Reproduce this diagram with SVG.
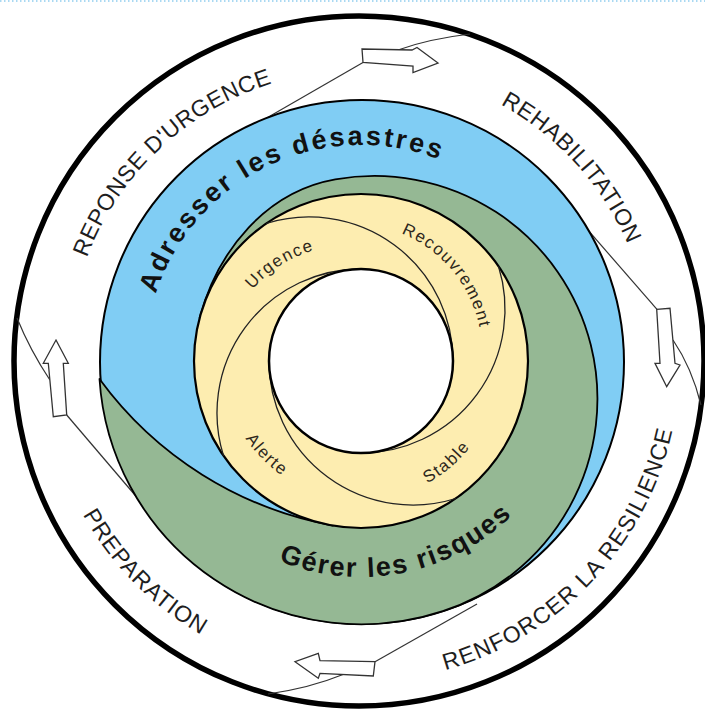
<svg xmlns="http://www.w3.org/2000/svg" width="705" height="713" viewBox="0 0 705 713">
<style>
.lbl{font-family:"Liberation Sans",Arial,Helvetica,sans-serif;}
.outer{font-size:23px;fill:#1e1e1e;}
.band{font-size:27px;font-weight:bold;fill:#111;}
.ring{font-size:17px;fill:#2e281c;}
.conn{fill:none;stroke:#333;stroke-width:1.2;}
.arrow{fill:#fff;stroke:#333;stroke-width:1.3;}
.swirl{fill:none;stroke:#222;stroke-width:1.3;}
</style>
<defs>
<path id="p-rep" d="M73.1 306.5 A291 291 0 0 1 322 72.4"/>
<path id="p-reh" d="M456.3 84.6 A293 293 0 0 1 643.4 290.6"/>
<path id="p-ren" d="M390.3 680.5 A321 321 0 0 0 679.7 373.9"/>
<path id="p-pre" d="M59.9 462.8 A316 316 0 0 0 253 658.7"/>
<path id="p-adr" d="M147.3 329.8 A216 216 0 0 1 473.9 176.8"/>
<path id="p-ger" d="M246.2 544 A216 216 0 0 0 536.6 486.7"/>
<path id="p-urg" d="M234.4 317.4 A125 125 0 0 1 347.4 245.8"/>
<path id="p-rec" d="M374.1 226 A128 128 0 0 1 481.8 356.6"/>
<path id="p-ale" d="M232.1 413.1 A139 139 0 0 0 308.2 489.6"/>
<path id="p-sta" d="M399.1 494.7 A139 139 0 0 0 486.5 420.8"/>
</defs>
<rect width="705" height="713" fill="#fff"/>
<line x1="0" y1="1" x2="705" y2="1" stroke="#8fcdee" stroke-width="1.5" stroke-dasharray="1.5 2.5"/>
<g id="outer-ring"><circle cx="359" cy="361" r="345" fill="#fff" stroke="#000" stroke-width="5.5"/></g>
<g id="connectors">
<path class="conn" d="M258 123 L363 62.5"/>
<path class="conn" d="M398 50 Q428 39 470 34"/>
<path class="conn" d="M580 221 L657 309.3"/>
<path class="conn" d="M673 340 Q692 368 701 405"/>
<path class="conn" d="M477 604 L375 661.7"/>
<path class="conn" d="M343 674.5 Q310 688 268 694"/>
<path class="conn" d="M66.7 415 L146 508"/>
<path class="conn" d="M49.9 380 Q30 350 17 318"/>
<polygon class="arrow" points="362,49 412,50 417,47.5 438,63 413,72.5 413,66 363,62.5"/>
<polygon class="arrow" points="656.7,309.3 670,308.3 675,363.3 680,365 666.7,386.7 655,363.3 660,363.3"/>
<polygon class="arrow" points="375,661.7 320,660.7 318.3,653.3 295,661.7 318.3,678.3 320,673.3 373.3,676"/>
<polygon class="arrow" points="56,340 68.3,363.3 63.3,363.3 66.7,415 53.3,416.7 48.3,363.3 43.3,363.3"/>
</g>
<g id="blue-band"><circle cx="362" cy="362" r="262" fill="#80CDF4" stroke="#000" stroke-width="2"/></g>
<g id="green-band"><path d="M199.7 317.8 C217.8 250.2 266.3 191.6 335.3 179.4 A223 223 0 0 1 442.8 611.2 A262 262 0 0 1 99.5 379 A372 372 0 0 0 333 525.5 L361 361 Z" fill="#95B894" stroke="#000" stroke-width="1.8" stroke-linejoin="round"/></g>
<g id="yellow-ring">
<circle cx="361" cy="361" r="167" fill="#FDEDB0" stroke="#000" stroke-width="2.2"/>
<path class="swirl" d="M266.2 223.5 A144 144 0 0 1 453 361"/>
<path class="swirl" d="M498.5 266.2 A144 144 0 0 1 361 453"/>
<path class="swirl" d="M455.8 498.5 A144 144 0 0 1 269 361"/>
<path class="swirl" d="M223.5 455.8 A144 144 0 0 1 361 269"/>
</g>
<g id="hole"><circle cx="361" cy="361" r="92" fill="#fff" stroke="#000" stroke-width="2.5"/></g>
<g id="outer-labels" class="lbl outer" text-anchor="middle">
<text letter-spacing="0.5"><textPath href="#p-rep" startOffset="50%">REPONSE D'URGENCE</textPath></text>
<text letter-spacing="0.5"><textPath href="#p-reh" startOffset="50%">REHABILITATION</textPath></text>
<text letter-spacing="1.1"><textPath href="#p-ren" startOffset="50%">RENFORCER LA RESILIENCE</textPath></text>
<text letter-spacing="0.9"><textPath href="#p-pre" startOffset="50%">PREPARATION</textPath></text>
</g>
<g id="band-labels" class="lbl band" text-anchor="middle">
<text letter-spacing="2.6"><textPath href="#p-adr" startOffset="50%">Adresser les désastres</textPath></text>
<text letter-spacing="1.9"><textPath href="#p-ger" startOffset="50%">Gérer les risques</textPath></text>
</g>
<g id="ring-labels" class="lbl ring" text-anchor="middle" letter-spacing="1.5">
<text><textPath href="#p-urg" startOffset="50%">Urgence</textPath></text>
<text><textPath href="#p-rec" startOffset="50%">Recouvrement</textPath></text>
<text><textPath href="#p-ale" startOffset="50%">Alerte</textPath></text>
<text><textPath href="#p-sta" startOffset="50%">Stable</textPath></text>
</g>
</svg>
